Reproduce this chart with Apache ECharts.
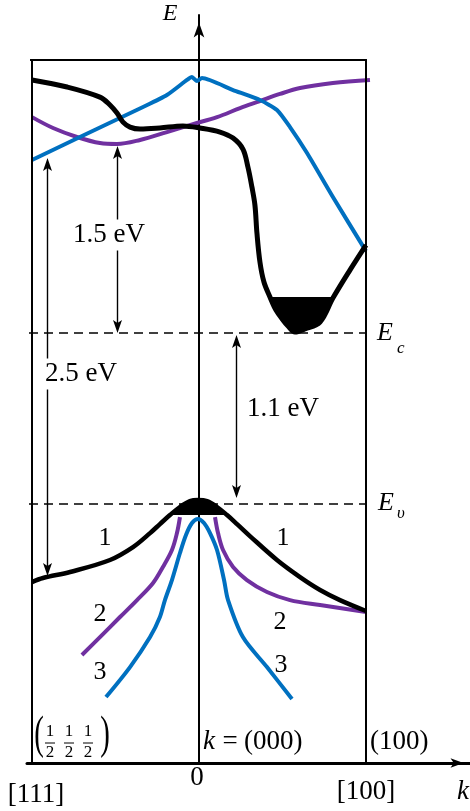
<!DOCTYPE html>
<html>
<head>
<meta charset="utf-8">
<script src="https://cdn.jsdelivr.net/npm/echarts@6/dist/echarts.min.js"></script>
<style>
  html, body { margin: 0; padding: 0; background: #fff; }
  #chart { width: 470px; height: 811px; }
</style>
</head>
<body>
<div id="chart"></div>
<script>
// Band structure of silicon along [111] and [100].
// k: -1 = (1/2 1/2 1/2) zone edge, 0 = Γ, 1 = (100) zone edge.
// E in eV measured from the valence band top.

const kTickValues = [-1, 0, 1];
const kTickLabels = ['[111]', '0', '[100]'];

const Ev = 0;
const Ec = 1.1;
const frameTop = 2.856;

// conduction bands
const condBlack = [
  [-1.000, 2.728], [-0.790, 2.683], [-0.593, 2.618], [-0.533, 2.567], [-0.491, 2.515],
  [-0.455, 2.457], [-0.413, 2.425], [-0.353, 2.412], [-0.234, 2.419], [-0.096, 2.432],
  [0.006, 2.419], [0.126, 2.393], [0.204, 2.354], [0.263, 2.283], [0.293, 2.168],
  [0.317, 2.039], [0.335, 1.923], [0.347, 1.743], [0.365, 1.557], [0.389, 1.428],
  [0.425, 1.332], [0.461, 1.248], [0.503, 1.184], [0.533, 1.145], [0.575, 1.106],
  [0.635, 1.126], [0.725, 1.171], [0.802, 1.325], [0.904, 1.505], [1.000, 1.666]
];
const condPurple = [
  [-1.000, 2.489], [-0.874, 2.419], [-0.731, 2.361], [-0.593, 2.322], [-0.491, 2.316],
  [-0.353, 2.342], [-0.192, 2.393], [-0.036, 2.444], [0.108, 2.489], [0.246, 2.547],
  [0.365, 2.592], [0.485, 2.638], [0.605, 2.676], [0.802, 2.708], [1.024, 2.728]
];
const condBlue = [
  [-1.000, 2.213], [-0.713, 2.361], [-0.335, 2.554], [-0.192, 2.631], [-0.072, 2.728],
  [-0.042, 2.747], [-0.012, 2.721], [0.018, 2.740], [0.204, 2.663], [0.365, 2.599],
  [0.467, 2.535], [0.545, 2.425], [0.647, 2.258], [0.802, 1.975], [1.000, 1.627]
];
// electrons filling the conduction band minimum
const electronPocket = [
  [0.425, 1.332], [0.461, 1.248], [0.503, 1.184], [0.533, 1.145], [0.575, 1.106],
  [0.635, 1.126], [0.725, 1.171], [0.802, 1.332]
];
const electronLevel = 1.332;

// valence bands
const valBlack = [
  [-1.000, -0.502], [-0.934, -0.476], [-0.772, -0.437], [-0.533, -0.360], [-0.395, -0.277],
  [-0.293, -0.187], [-0.234, -0.129], [-0.174, -0.071], [-0.114, -0.019], [-0.054, 0.019],
  [-0.006, 0.026], [0.048, 0.019], [0.108, -0.019], [0.168, -0.071], [0.228, -0.129],
  [0.305, -0.206], [0.467, -0.360], [0.605, -0.470], [0.725, -0.553], [0.844, -0.618],
  [1.000, -0.688]
];
const valPurpleLeft = [
  [-0.701, -0.971], [-0.593, -0.856], [-0.473, -0.727], [-0.371, -0.618], [-0.275, -0.508],
  [-0.216, -0.405], [-0.162, -0.296], [-0.132, -0.187], [-0.114, -0.084]
];
const valPurpleRight = [
  [0.096, -0.084], [0.114, -0.187], [0.144, -0.296], [0.204, -0.405], [0.287, -0.489],
  [0.407, -0.566], [0.545, -0.618], [0.725, -0.650], [1.000, -0.695]
];
const valBlue = [
  [-0.557, -1.242], [-0.413, -1.049], [-0.293, -0.856], [-0.234, -0.727], [-0.204, -0.618],
  [-0.162, -0.489], [-0.114, -0.315], [-0.078, -0.199], [-0.042, -0.122], [-0.006, -0.096],
  [0.030, -0.122], [0.066, -0.187], [0.108, -0.296], [0.150, -0.489], [0.174, -0.618],
  [0.263, -0.856], [0.407, -1.049], [0.557, -1.254]
];
// holes at the valence band top
const holeCap = [
  [-0.174, -0.071], [-0.114, -0.019], [-0.054, 0.019], [-0.006, 0.026], [0.048, 0.019],
  [0.108, -0.019], [0.168, -0.071]
];
const holeLevel = -0.071;

// energy gap arrows: [k, upper tip, lower tip]
const gapArrows = [
  [-0.494, 2.303, 1.100],
  [-0.913, 2.226, -0.463],
  [0.219, 1.087, 0.039]
];
const gapLabels = ['1.5 eV', '2.5 eV', '1.1 eV'];

const kMin = -1.03, kMax = 1.623;
const eMin = -1.666, eMax = 3.146;

const BLACK = '#000000';
const PURPLE = '#7030a0';
const BLUE = '#0070c0';
const SERIF = '"Liberation Serif", "Times New Roman", serif';

function band(data, color, width, z, smooth) {
  return {
    type: 'line', data: data, showSymbol: false, symbol: 'none',
    smooth: smooth, clip: false, silent: true, z: z,
    lineStyle: { color: color, width: width, cap: 'butt', join: 'round' }
  };
}

function filled(data, level, z) {
  return {
    type: 'line', data: data, showSymbol: false, symbol: 'none',
    smooth: 0.35, clip: false, silent: true, z: z,
    lineStyle: { width: 0 },
    areaStyle: { color: BLACK, opacity: 1, origin: level }
  };
}

function seg(k1, e1, k2, e2, style) {
  return [{ coord: [k1, e1], lineStyle: style }, { coord: [k2, e2] }];
}

const frameStyle = { color: BLACK, width: 2, type: 'solid' };
const dashStyle = { color: BLACK, width: 1.5, type: [9, 6] };

function renderArrow(params, api) {
  const k = api.value(0);
  const a = api.coord([k, api.value(1)]);
  const b = api.coord([k, api.value(2)]);
  const x = Math.round(a[0]) + 0.5;
  const hl = 13, hw = 4.5, notch = 3;
  return {
    type: 'group',
    children: [
      { type: 'line', shape: { x1: x, y1: a[1] + hl - notch, x2: x, y2: b[1] - hl + notch },
        style: { stroke: BLACK, lineWidth: 1.4 } },
      { type: 'polygon', shape: { points: [[x, a[1]], [x + hw, a[1] + hl], [x, a[1] + hl - notch], [x - hw, a[1] + hl]] },
        style: { fill: BLACK } },
      { type: 'polygon', shape: { points: [[x, b[1]], [x + hw, b[1] - hl], [x, b[1] - hl + notch], [x - hw, b[1] - hl]] },
        style: { fill: BLACK } }
    ]
  };
}

const chart = echarts.init(document.getElementById('chart'), null, { renderer: 'canvas' });

chart.setOption({
  animation: false,
  backgroundColor: '#ffffff',
  grid: { left: 27, right: 0, top: 15, bottom: 48, containLabel: false },
  xAxis: {
    type: 'value', min: kMin, max: kMax,
    axisLine: { show: true, onZero: false, lineStyle: { color: BLACK, width: 3 },
      symbol: ['none', 'arrow'], symbolSize: [7, 13], symbolOffset: [0, -6.5] },
    axisTick: { show: false }, axisLabel: { show: false }, splitLine: { show: false }
  },
  yAxis: {
    type: 'value', min: eMin, max: eMax,
    axisLine: { show: true, onZero: true, lineStyle: { color: BLACK, width: 2 },
      symbol: ['none', 'arrow'], symbolSize: [8, 15], symbolOffset: [0, -7.5] },
    axisTick: { show: false }, axisLabel: { show: false }, splitLine: { show: false }
  },
  series: [
    Object.assign(band([], BLACK, 0, 1, false), {
      markLine: {
        silent: true, symbol: ['none', 'none'], label: { show: false },
        data: [
          seg(-1.012, frameTop, 1.006, frameTop, frameStyle),
          seg(-1, eMin, -1, frameTop, frameStyle),
          seg(1, eMin, 1, frameTop, frameStyle),
          seg(-1.018, Ec, 1.006, Ec, dashStyle),
          seg(-1.018, Ev, 1.006, Ev, dashStyle)
        ]
      }
    }),
    band(condPurple, PURPLE, 4, 3, 0.35),
    band(condBlue, BLUE, 4, 4, 0.2),
    band(condBlack, BLACK, 5, 5, 0.35),
    filled(electronPocket, electronLevel, 5),
    band(valPurpleLeft, PURPLE, 4, 3, 0.35),
    band(valPurpleRight, PURPLE, 4, 3, 0.35),
    band(valBlue, BLUE, 4, 4, 0.3),
    band(valBlack, BLACK, 4.5, 5, 0.35),
    filled(holeCap, holeLevel, 6),
    {
      type: 'custom', data: gapArrows, renderItem: renderArrow,
      encode: { x: 0, y: [1, 2] }, silent: true, z: 7
    }
  ]
});

// Text annotations
function txt(text, x, y, size, opts) {
  opts = opts || {};
  const el = {
    type: 'text', x: x, y: y, z: 100, silent: true,
    style: Object.assign({
      text: text, fill: BLACK, fontFamily: SERIF, fontSize: size,
      fontStyle: opts.italic ? 'italic' : 'normal',
      align: opts.align || 'center', verticalAlign: 'middle'
    }, opts.bg ? { backgroundColor: '#ffffff', padding: [2, 1, 2, 1] } : {})
  };
  if (opts.scaleY) { el.scaleY = opts.scaleY; el.scaleX = opts.scaleX || 1; }
  return el;
}

const px = (k, e) => chart.convertToPixel({ gridIndex: 0 }, [k, e]);

const elements = [];
// axis names
elements.push(txt('E', 170, 14, 24, { italic: true }));
elements.push(txt('k', 463, 792, 27, { italic: true }));
// band edges
const ecPos = px(1, Ec), evPos = px(1, Ev);
elements.push(txt('E', ecPos[0] + 11, ecPos[1], 26, { italic: true, align: 'left' }));
elements.push(txt('c', ecPos[0] + 31, ecPos[1] + 15, 17, { italic: true, align: 'left' }));
elements.push(txt('E', evPos[0] + 12, evPos[1] - 1, 26, { italic: true, align: 'left' }));
elements.push(txt('\u03c5', evPos[0] + 31, evPos[1] + 10, 17, { italic: true, align: 'left' }));
// gap values
elements.push(txt(gapLabels[0], 109, 235, 27, { bg: true }));
elements.push(txt(gapLabels[1], 81, 374, 27, { bg: true }));
elements.push(txt(gapLabels[2], 283, 409, 27));
// band indices
[['1', 105, 538], ['1', 283, 538], ['2', 100, 614], ['2', 280, 622], ['3', 100, 672], ['3', 281, 665]]
  .forEach(t => elements.push(txt(t[0], t[1], t[2], 26)));
// zone point labels
elements.push(txt('(', 39, 736, 32, { scaleY: 1.45, scaleX: 0.9 }));
elements.push(txt(')', 105, 736, 32, { scaleY: 1.45, scaleX: 0.9 }));
[50, 69, 88].forEach(x => {
  elements.push(txt('1', x, 732, 17));
  elements.push(txt('2', x, 753, 17));
  elements.push({ type: 'line', z: 100, silent: true,
    shape: { x1: x - 5, y1: 743, x2: x + 5, y2: 743 }, style: { stroke: BLACK, lineWidth: 1 } });
});
elements.push(txt('k', 203, 742, 27, { italic: true, align: 'left' }));
elements.push(txt('=', 230, 742, 27));
elements.push(txt('(000)', 244, 742, 27, { align: 'left' }));
elements.push(txt('(100)', 370, 742, 27, { align: 'left' }));
// direction tick labels
const tickY = [795, 778, 792];
kTickValues.forEach((k, i) => {
  const p = px(k, eMin);
  elements.push(txt(kTickLabels[i], p[0] + (i === 0 ? 4 : (i === 1 ? -2 : 0)), tickY[i], 27));
});

chart.setOption({ graphic: { elements: elements } });
</script>
</body>
</html>
